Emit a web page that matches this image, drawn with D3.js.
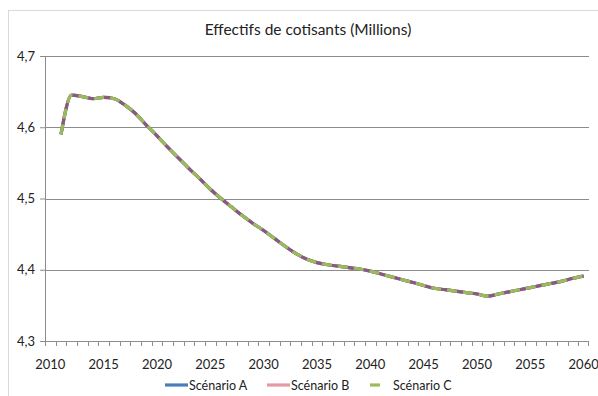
<!DOCTYPE html>
<html>
<head>
  <meta charset="utf-8">
  <title>Effectifs de cotisants</title>
  <script src="https://cdn.jsdelivr.net/npm/d3@7.0.0/dist/d3.min.js"></script>
  <style>
    body { margin: 0; background: #fff; }
    text { font-family: Lato, "Open Sans", sans-serif; fill: #222; }
  </style>
</head>
<body>
  <div id="chart"></div>

  <script>
    // Categories: 2010 .. 2060 (one per year)
    var years = d3.range(2010, 2061);
    var xTickLabels = ["2010", "2015", "2020", "2025", "2030", "2035", "2040", "2045", "2050", "2055", "2060"];
    var yTicks = [4.3, 4.4, 4.5, 4.6, 4.7];

    // Values from 2011 to 2060 (the three scenarios overlap)
    var dataYears = d3.range(2011, 2061);
    var scenarioA = [
      4.590, 4.645, 4.643, 4.640, 4.642, 4.640, 4.631, 4.619, 4.603, 4.588,
      4.572, 4.557, 4.542, 4.528, 4.513, 4.500, 4.488, 4.476, 4.465, 4.455,
      4.444, 4.433, 4.423, 4.415, 4.410, 4.407, 4.405, 4.403, 4.401, 4.398,
      4.394, 4.390, 4.386, 4.382, 4.378, 4.374, 4.372, 4.370, 4.368, 4.366,
      4.363, 4.366, 4.369, 4.372, 4.375, 4.378, 4.381, 4.384, 4.388, 4.391
    ];
    var scenarioB = scenarioA.slice();
    var scenarioC = scenarioA.slice();

    // lineColor: colour seen on the plot where lines overlap; color: legend swatch
    var series = [
      { name: "Scénario A", values: scenarioA, color: "#4a7ebb", lineColor: "#4a7ebb", dash: null },
      { name: "Scénario B", values: scenarioB, color: "#e39aa3", lineColor: "#8e5680", dash: null },
      { name: "Scénario C", values: scenarioC, color: "#9bbb59", lineColor: "#9bbb59", dash: "10,6" }
    ];

    var W = 598, H = 396;
    var margin = { top: 56, right: 9, bottom: 55, left: 45 };
    var width = W - margin.left - margin.right;
    var height = H - margin.top - margin.bottom;

    var svg = d3.select("#chart").append("svg")
      .attr("width", W)
      .attr("height", H);

    // chart frame
    svg.append("rect")
      .attr("x", 8.5).attr("y", 10.5)
      .attr("width", 620).attr("height", 420)
      .attr("fill", "none")
      .attr("stroke", "#d9d9d9");

    var g = svg.append("g")
      .attr("transform", "translate(" + margin.left + "," + margin.top + ")");

    var x = d3.scaleBand().domain(years).range([0, width]).padding(0);
    var y = d3.scaleLinear().domain([4.3, 4.7]).range([height, 0]);

    // gridlines
    g.append("g")
      .selectAll("line")
      .data(yTicks.slice(1))
      .enter().append("line")
      .attr("x1", 0).attr("x2", width)
      .attr("y1", function(d) { return Math.round(y(d)) + 0.5; })
      .attr("y2", function(d) { return Math.round(y(d)) + 0.5; })
      .attr("stroke", "#8c8c8c");

    // y axis
    var yAxis = g.append("g")
      .call(d3.axisLeft(y).tickValues(yTicks).tickSize(5).tickPadding(5)
        .tickFormat(function(d) { return d3.format(".1f")(d).replace(".", ","); }));
    yAxis.select(".domain").attr("stroke", "#8c8c8c");
    yAxis.selectAll(".tick line").attr("stroke", "#8c8c8c");
    yAxis.selectAll("text").style("font-size", "13px").attr("fill", "#222");

    // x axis: ticks at category boundaries, labels every 5 years
    var xAxisG = g.append("g").attr("transform", "translate(0," + height + ")");
    xAxisG.append("line")
      .attr("x1", 0).attr("x2", width)
      .attr("y1", 0.5).attr("y2", 0.5)
      .attr("stroke", "#8c8c8c");
    xAxisG.selectAll(".xt")
      .data(years.concat([2061]))
      .enter().append("line")
      .attr("class", "xt")
      .attr("x1", function(d) { return d === 2061 ? width - 0.5 : Math.round(x(d)) + 0.5; })
      .attr("x2", function(d) { return d === 2061 ? width - 0.5 : Math.round(x(d)) + 0.5; })
      .attr("y1", 0).attr("y2", 5)
      .attr("stroke", "#8c8c8c");
    xAxisG.selectAll(".xl")
      .data(xTickLabels)
      .enter().append("text")
      .attr("class", "xl")
      .attr("x", function(d) { return x(+d) + x.bandwidth() / 2; })
      .attr("y", 28)
      .attr("text-anchor", "middle")
      .style("font-size", "13px")
      .text(function(d) { return d; });

    // lines
    var line = d3.line()
      .x(function(d, i) { return x(dataYears[i]) + x.bandwidth() / 2; })
      .y(function(d) { return y(d); })
      .curve(d3.curveMonotoneX);

    series.forEach(function(s) {
      g.append("path")
        .datum(s.values)
        .attr("fill", "none")
        .attr("stroke", s.lineColor)
        .attr("stroke-width", 3.2)
        .attr("stroke-dasharray", s.dash)
        .attr("d", line);
    });

    // title
    svg.append("text")
      .attr("x", 308).attr("y", 35)
      .attr("text-anchor", "middle")
      .style("font-size", "15.5px")
      .text("Effectifs de cotisants (Millions)");

    // legend
    var legendPos = [165, 267, 370];
    var legendLen = [23, 23, 10];
    var legendGap = [1, 1, 13];
    var legend = svg.append("g").attr("transform", "translate(0,385)");
    series.forEach(function(s, i) {
      legend.append("line")
        .attr("x1", legendPos[i]).attr("x2", legendPos[i] + legendLen[i])
        .attr("y1", 0).attr("y2", 0)
        .attr("stroke", s.color)
        .attr("stroke-width", 3.2);
      legend.append("text")
        .attr("x", legendPos[i] + legendLen[i] + legendGap[i])
        .attr("y", 4.5)
        .style("font-size", "12.5px")
        .text(s.name);
    });
  </script>
</body>
</html>
